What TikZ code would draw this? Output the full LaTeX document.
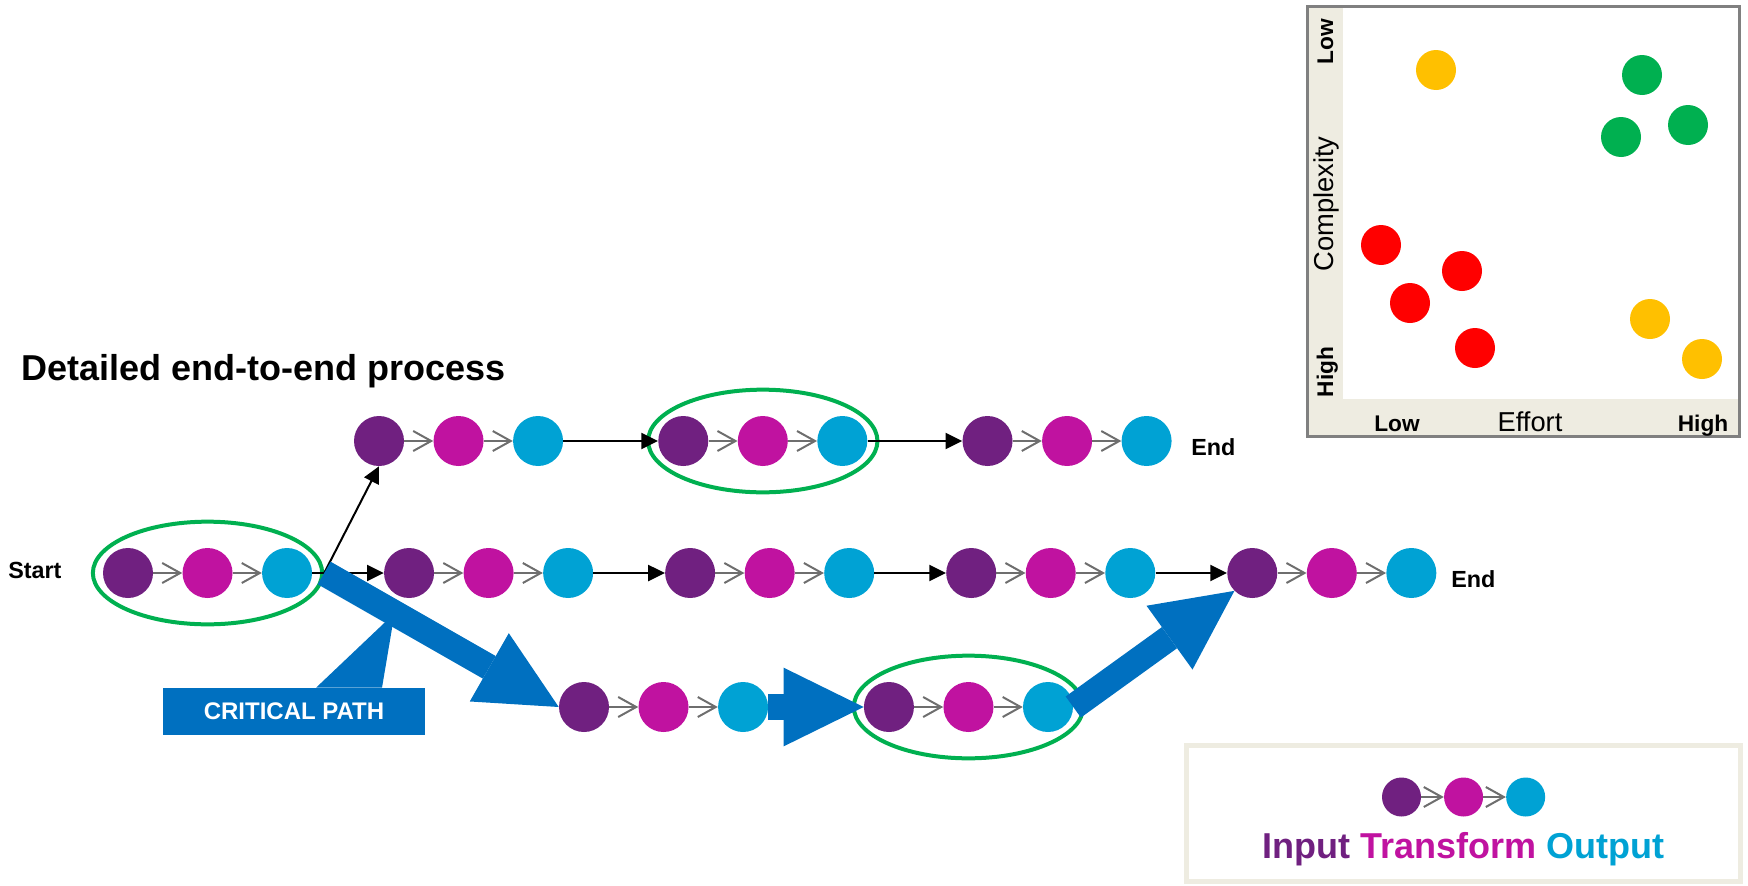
\documentclass[tikz,border=0pt]{standalone}
\usepackage{fontspec}
\setmainfont{Liberation Sans}
\usetikzlibrary{positioning,arrows.meta,shapes.geometric,calc}

\definecolor{inpc}{RGB}{112,32,128}
\definecolor{trfc}{RGB}{192,18,160}
\definecolor{outc}{RGB}{0,162,212}
\definecolor{critc}{RGB}{0,112,192}
\definecolor{ringc}{RGB}{0,176,80}
\definecolor{beige}{RGB}{238,236,225}
\definecolor{linkc}{RGB}{110,110,110}
\definecolor{framec}{RGB}{128,128,128}
\definecolor{redc}{RGB}{255,0,0}
\definecolor{yelc}{RGB}{255,192,0}
\definecolor{grnc}{RGB}{0,176,80}

\tikzset{
  blob/.style={circle,minimum size=37.5pt,inner sep=0pt},
  inp/.style={blob,fill=inpc},
  trf/.style={blob,fill=trfc},
  outp/.style={blob,fill=outc},
  ring/.style={ellipse,draw=ringc,line width=3pt,minimum width=172pt,minimum height=77pt,inner sep=0pt},
  link/.style={draw=linkc,line width=1.5pt,-{Straight Barb[length=13.5pt,width=15pt]}},
  flow/.style={draw=black,line width=1.5pt,-{Triangle[length=12.5pt,width=12pt]}},
  crit/.style={draw=critc,line width=19.5pt,-{Triangle[length=60pt,width=59pt,line width=0pt]}},
  dot/.style={circle,minimum size=30pt,inner sep=0pt},
  lbl/.style={font=\bfseries\fontsize{17.5}{20}\selectfont,inner sep=0pt},
  axl/.style={font=\bfseries\fontsize{17}{20}\selectfont,inner sep=0pt,anchor=base},
  axt/.style={font=\fontsize{20.5}{24}\selectfont,inner sep=0pt,anchor=base},
  callbox/.style={fill=critc,text=white,font=\bfseries\fontsize{18}{20}\selectfont,minimum width=196.5pt,minimum height=35.25pt,inner sep=0pt}
}

\begin{document}
\begin{tikzpicture}[x=0.75pt,y=-0.75pt,node distance=21.75pt]
\useasboundingbox (0,0) rectangle (1748,885);

\node[anchor=base west,inner sep=0pt,font=\bfseries\fontsize{27}{30}\selectfont] (title) at (21,380) {Detailed end-to-end process};
\node[lbl,anchor=base west] (start) at (8,578) {Start};


\node[inp] (m1) at (128,573) {};
\node[trf,right=of m1] (m2) {};
\node[outp,right=of m2] (m3) {};
\node[inp,right=53.6pt of m3] (m4) {};
\node[trf,right=of m4] (m5) {};
\node[outp,right=of m5] (m6) {};
\node[inp,right=53.6pt of m6] (m7) {};
\node[trf,right=of m7] (m8) {};
\node[outp,right=of m8] (m9) {};
\node[inp,right=53.6pt of m9] (m10) {};
\node[trf,right=of m10] (m11) {};
\node[outp,right=of m11] (m12) {};
\node[inp,right=53.6pt of m12] (m13) {};
\node[trf,right=of m13] (m14) {};
\node[outp,right=of m14] (m15) {};
\node[lbl,anchor=base west] (end1) at (1451,587) {End};
\node[ring] (e1) at (m2) {};
\path (m1) edge[link] (m2);
\path (m2) edge[link] (m3);
\path (m3) edge[flow] (m4);
\path (m4) edge[link] (m5);
\path (m5) edge[link] (m6);
\path (m6) edge[flow] (m7);
\path (m7) edge[link] (m8);
\path (m8) edge[link] (m9);
\path (m9) edge[flow] (m10);
\path (m10) edge[link] (m11);
\path (m11) edge[link] (m12);
\path (m12) edge[flow] (m13);
\path (m13) edge[link] (m14);
\path (m14) edge[link] (m15);


\node[inp] (t1) at (379,441) {};
\node[trf,right=of t1] (t2) {};
\node[outp,right=of t2] (t3) {};
\node[inp,right=71pt of t3] (t4) {};
\node[trf,right=of t4] (t5) {};
\node[outp,right=of t5] (t6) {};
\node[inp,right=71pt of t6] (t7) {};
\node[trf,right=of t7] (t8) {};
\node[outp,right=of t8] (t9) {};
\node[lbl,anchor=base west] (end2) at (1191,455) {End};
\node[ring] (e2) at (t5) {};
\path (t1) edge[link] (t2);
\path (t2) edge[link] (t3);
\path (t3) edge[flow] (t4);
\path (t4) edge[link] (t5);
\path (t5) edge[link] (t6);
\path (t6) edge[flow] (t7);
\path (t7) edge[link] (t8);
\path (t8) edge[link] (t9);
\path (e1.east) edge[flow] (t1.south);


\node[inp] (b1) at (584,707) {};
\node[trf,right=of b1] (b2) {};
\node[outp,right=of b2] (b3) {};
\node[inp,right=71.5pt of b3] (b4) {};
\node[trf,right=of b4] (b5) {};
\node[outp,right=of b5] (b6) {};
\node[ring] (e3) at (b5) {};
\path (b1) edge[link] (b2);
\path (b2) edge[link] (b3);
\path (b4) edge[link] (b5);
\path (b5) edge[link] (b6);


\node[callbox] (cp) at (294,711.5) {CRITICAL PATH};
\fill[critc] ([xshift=16.5pt]cp.north) -- ($(e1.east)!0.3!(b1.west)$) -- ([xshift=66pt]cp.north) -- cycle;
\path (e1.east) edge[crit] (b1.west);
\path (b3.east) edge[crit] (b4.west);
\path (b6.east) edge[crit] (m13.south west);


\fill[beige] (1307.5,6.5) rectangle (1739.5,436.5);
\fill[white] (1343,8) rectangle (1738,399);
\draw[framec,line width=2.25pt] (1307.5,6.5) rectangle (1739.5,436.5);
\node[dot,fill=yelc] (d1) at (1436,70) {};
\node[dot,fill=grnc] (d2) at (1642,75) {};
\node[dot,fill=grnc] (d3) at (1688,125) {};
\node[dot,fill=grnc] (d4) at (1621,137) {};
\node[dot,fill=redc] (d5) at (1381,245) {};
\node[dot,fill=redc] (d6) at (1462,271) {};
\node[dot,fill=redc] (d7) at (1410,303) {};
\node[dot,fill=redc] (d8) at (1475,348) {};
\node[dot,fill=yelc] (d9) at (1650,319) {};
\node[dot,fill=yelc] (d10) at (1702,359) {};
\node[axl,rotate=90] (ylo) at (1333,42) {Low};
\node[axt,rotate=90] (ytx) at (1333,204) {Complexity};
\node[axl,rotate=90] (yhi) at (1333,372) {High};
\node[axl] (xlo) at (1397,431) {Low};
\node[axt] (xtx) at (1530,431) {Effort};
\node[axl] (xhi) at (1703,431) {High};


\draw[beige,line width=3.75pt,fill=white] (1186.5,745.5) rectangle (1740.5,881);
\node[inp,minimum size=29.25pt] (k1) at (1401.5,797) {};
\node[trf,minimum size=29.25pt,right=16.9pt of k1] (k2) {};
\node[outp,minimum size=29.25pt,right=16.9pt of k2] (k3) {};
\path (k1) edge[link] (k2);
\path (k2) edge[link] (k3);
\node[anchor=base,inner sep=0pt,font=\bfseries\fontsize{27}{30}\selectfont] (key) at (1463.5,858) {\textcolor{inpc}{Input} \textcolor{trfc}{Transform} \textcolor{outc}{Output}};

\end{tikzpicture}
\end{document}
